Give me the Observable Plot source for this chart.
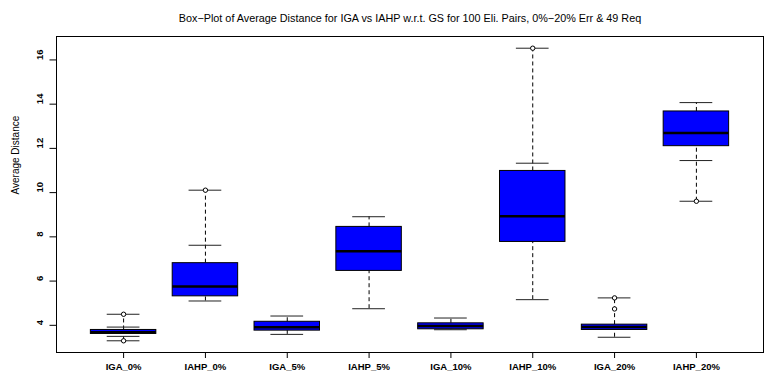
<!DOCTYPE html>
<html>
<head>
<meta charset="utf-8">
<script src="https://cdn.jsdelivr.net/npm/d3@7"></script>
<script src="https://cdn.jsdelivr.net/npm/@observablehq/plot@0.6"></script>
<style>
  html, body { margin: 0; padding: 0; background: white; }
</style>
</head>
<body>
<div id="chart"></div>
<script>
const title = "Box\u2212Plot of Average Distance for IGA vs IAHP w.r.t. GS for 100 Eli. Pairs, 0%\u221220% Err & 49 Req";
const yLabel = "Average Distance";
const categories = ["IGA_0%", "IAHP_0%", "IGA_5%", "IAHP_5%", "IGA_10%", "IAHP_10%", "IGA_20%", "IAHP_20%"];
const lowerQuartile = [3.61, 5.31, 3.76, 6.46, 3.82, 7.77, 3.79, 12.10];
const medians       = [3.69, 5.75, 3.91, 7.35, 3.97, 8.93, 3.92, 12.70];
const upperQuartile = [3.79, 6.81, 4.16, 8.45, 4.09, 10.98, 4.03, 13.67];
const whiskerLow    = [3.30, 5.10, 3.59, 4.75, 3.80, 5.16, 3.46, 9.61];
const whiskerHigh   = [4.50, 10.11, 4.42, 8.91, 4.33, 16.53, 5.24, 14.07];
const capValues = [
  [3.30, 3.50, 3.92, 4.50],
  [5.10, 7.62, 10.11],
  [3.59, 4.42],
  [4.75, 8.91],
  [3.80, 4.33],
  [5.16, 11.33, 16.53],
  [3.46, 5.24],
  [9.61, 11.45, 14.07]
];
const outlierValues = [
  [3.30, 4.50],
  [10.11],
  [],
  [],
  [],
  [16.53],
  [4.74, 5.24],
  [9.61]
];
const yTicks = [4, 6, 8, 10, 12, 14, 16];

const idx = categories.map((_, i) => i);
const caps = capValues.flatMap((vs, i) => vs.map(v => ({i, v})));
const outliers = outlierValues.flatMap((vs, i) => vs.map(v => ({i, v})));

const lo = 3.30, hi = 16.53, ext = (hi - lo) * 0.04;

const chart = Plot.plot({
  width: 767,
  height: 382,
  marginLeft: 56,
  marginRight: 4,
  marginTop: 36,
  marginBottom: 30,
  style: {fontFamily: "'Liberation Sans', Arial, sans-serif", background: "white", color: "black"},
  x: {type: "linear", domain: [0.18, 8.82]},
  y: {domain: [lo - ext, hi + ext]},
  marks: [
    Plot.ruleX(idx, {x: i => i + 1, y1: i => whiskerLow[i], y2: i => lowerQuartile[i], stroke: "black", strokeDasharray: "4,3"}),
    Plot.ruleX(idx, {x: i => i + 1, y1: i => upperQuartile[i], y2: i => whiskerHigh[i], stroke: "black", strokeDasharray: "4,3"}),
    Plot.ruleY(caps, {y: "v", x1: d => d.i + 1 - 0.2, x2: d => d.i + 1 + 0.2, stroke: "#222"}),
    Plot.rect(idx, {x1: i => i + 1 - 0.4, x2: i => i + 1 + 0.4, y1: i => lowerQuartile[i], y2: i => upperQuartile[i], fill: "#0000ff", stroke: "black"}),
    Plot.ruleY(idx, {y: i => medians[i], x1: i => i + 1 - 0.4, x2: i => i + 1 + 0.4, stroke: "black", strokeWidth: 2.5}),
    Plot.dot(outliers, {x: d => d.i + 1, y: "v", r: 2.2, stroke: "black", fill: "white", strokeWidth: 1}),
    Plot.frame({stroke: "black"}),
    Plot.axisY({ticks: yTicks, tickSize: 6.5, tickFormat: () => "", label: null}),
    Plot.axisX({ticks: idx.map(i => i + 1), tickSize: 6, tickFormat: () => "", label: null}),
    Plot.text(yTicks, {y: d => d, text: d => String(d), frameAnchor: "left", dx: -16.7, rotate: -90, fontWeight: "bold", fontSize: 9.5, fill: "black"}),
    Plot.text(idx, {x: i => i + 1, text: i => categories[i], frameAnchor: "bottom", dy: 17.5, fontWeight: "bold", fontSize: 9.5, fill: "black"}),
    Plot.text([yLabel], {text: d => d, frameAnchor: "left", dx: -41, rotate: -90, fontSize: 10, fill: "black"}),
    Plot.text([title], {text: d => d, frameAnchor: "top", dy: -22, fontSize: 10.8, fill: "black"})
  ]
});
document.getElementById("chart").append(chart);
</script>
</body>
</html>
